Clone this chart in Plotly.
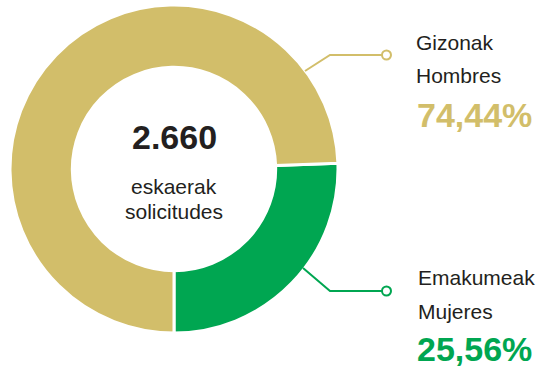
import plotly.graph_objects as go

# Requests by sex (percent of total)
labels = ["Emakumeak / Mujeres", "Gizonak / Hombres"]
values = [25.56, 74.44]
total_requests = "2.660"
label_eu = ["Emakumeak", "Gizonak"]
label_es = ["Mujeres", "Hombres"]
pct_text = ["25,56%", "74,44%"]

W, H = 539, 369
GOLD = "#D2BE6A"
GREEN = "#00A651"
DARK = "#231F20"
REG = "Liberation Sans, Arial, sans-serif"
BOLD = "Liberation Sans, Arial, sans-serif"

# donut geometry in pixels
cx, cy, r_out = 174, 169, 164


def px(x):
    return x / W


def py(y):
    return 1 - y / H


fig = go.Figure()
fig.add_trace(go.Pie(
    labels=labels,
    values=values,
    sort=False,
    direction="clockwise",
    rotation=180 - 360 * values[0] / sum(values),
    hole=0.62,
    marker=dict(colors=[GREEN, GOLD], line=dict(color="white", width=3)),
    textinfo="none",
    hoverinfo="label+percent",
    showlegend=False,
    domain=dict(x=[px(cx - r_out), px(cx + r_out)],
                y=[py(cy + r_out), py(cy - r_out)]),
))

annotations = []


def add_text(x, y, text, size, color, family, bold=False, anchor="left"):
    annotations.append(dict(
        x=px(x), y=py(y), xref="paper", yref="paper",
        text=f"<b>{text}</b>" if bold else text,
        showarrow=False, xanchor=anchor, yanchor="middle",
        font=dict(size=size, color=color, family=family),
    ))


# centre of the donut
add_text(cx, 137, total_requests, 34, DARK, BOLD, bold=True, anchor="center")
add_text(cx, 186.5, "eskaerak", 21, DARK, REG, anchor="center")
add_text(cx, 211.5, "solicitudes", 21, DARK, REG, anchor="center")

# side labels
add_text(414, 42.5, label_eu[1], 21, DARK, REG)
add_text(414, 75, label_es[1], 21, DARK, REG)
add_text(415, 114.5, pct_text[1], 34, GOLD, BOLD, bold=True)

add_text(416, 277.5, label_eu[0], 21, DARK, REG)
add_text(416, 311.5, label_es[0], 21, DARK, REG)
add_text(415, 348.5, pct_text[0], 34, GREEN, BOLD, bold=True)

shapes = []
# leader lines with hollow end markers
for pts, col in [([(305, 71), (330, 55), (382, 55)], GOLD),
                 ([(303, 268), (330, 291), (382, 291)], GREEN)]:
    path = "M " + " L ".join(f"{px(x)},{py(y)}" for x, y in pts)
    shapes.append(dict(type="path", path=path, xref="paper", yref="paper",
                       line=dict(color=col, width=2)))
    ex, ey = pts[-1][0] + 4.5, pts[-1][1]
    shapes.append(dict(type="circle", xref="paper", yref="paper",
                       x0=px(ex - 4.5), x1=px(ex + 4.5),
                       y0=py(ey + 4.5), y1=py(ey - 4.5),
                       fillcolor="white", line=dict(color=col, width=2)))

fig.update_layout(
    width=W, height=H,
    margin=dict(l=0, r=0, t=0, b=0),
    paper_bgcolor="white", plot_bgcolor="white",
    annotations=annotations,
    shapes=shapes,
)

fig.write_html("out.html")
